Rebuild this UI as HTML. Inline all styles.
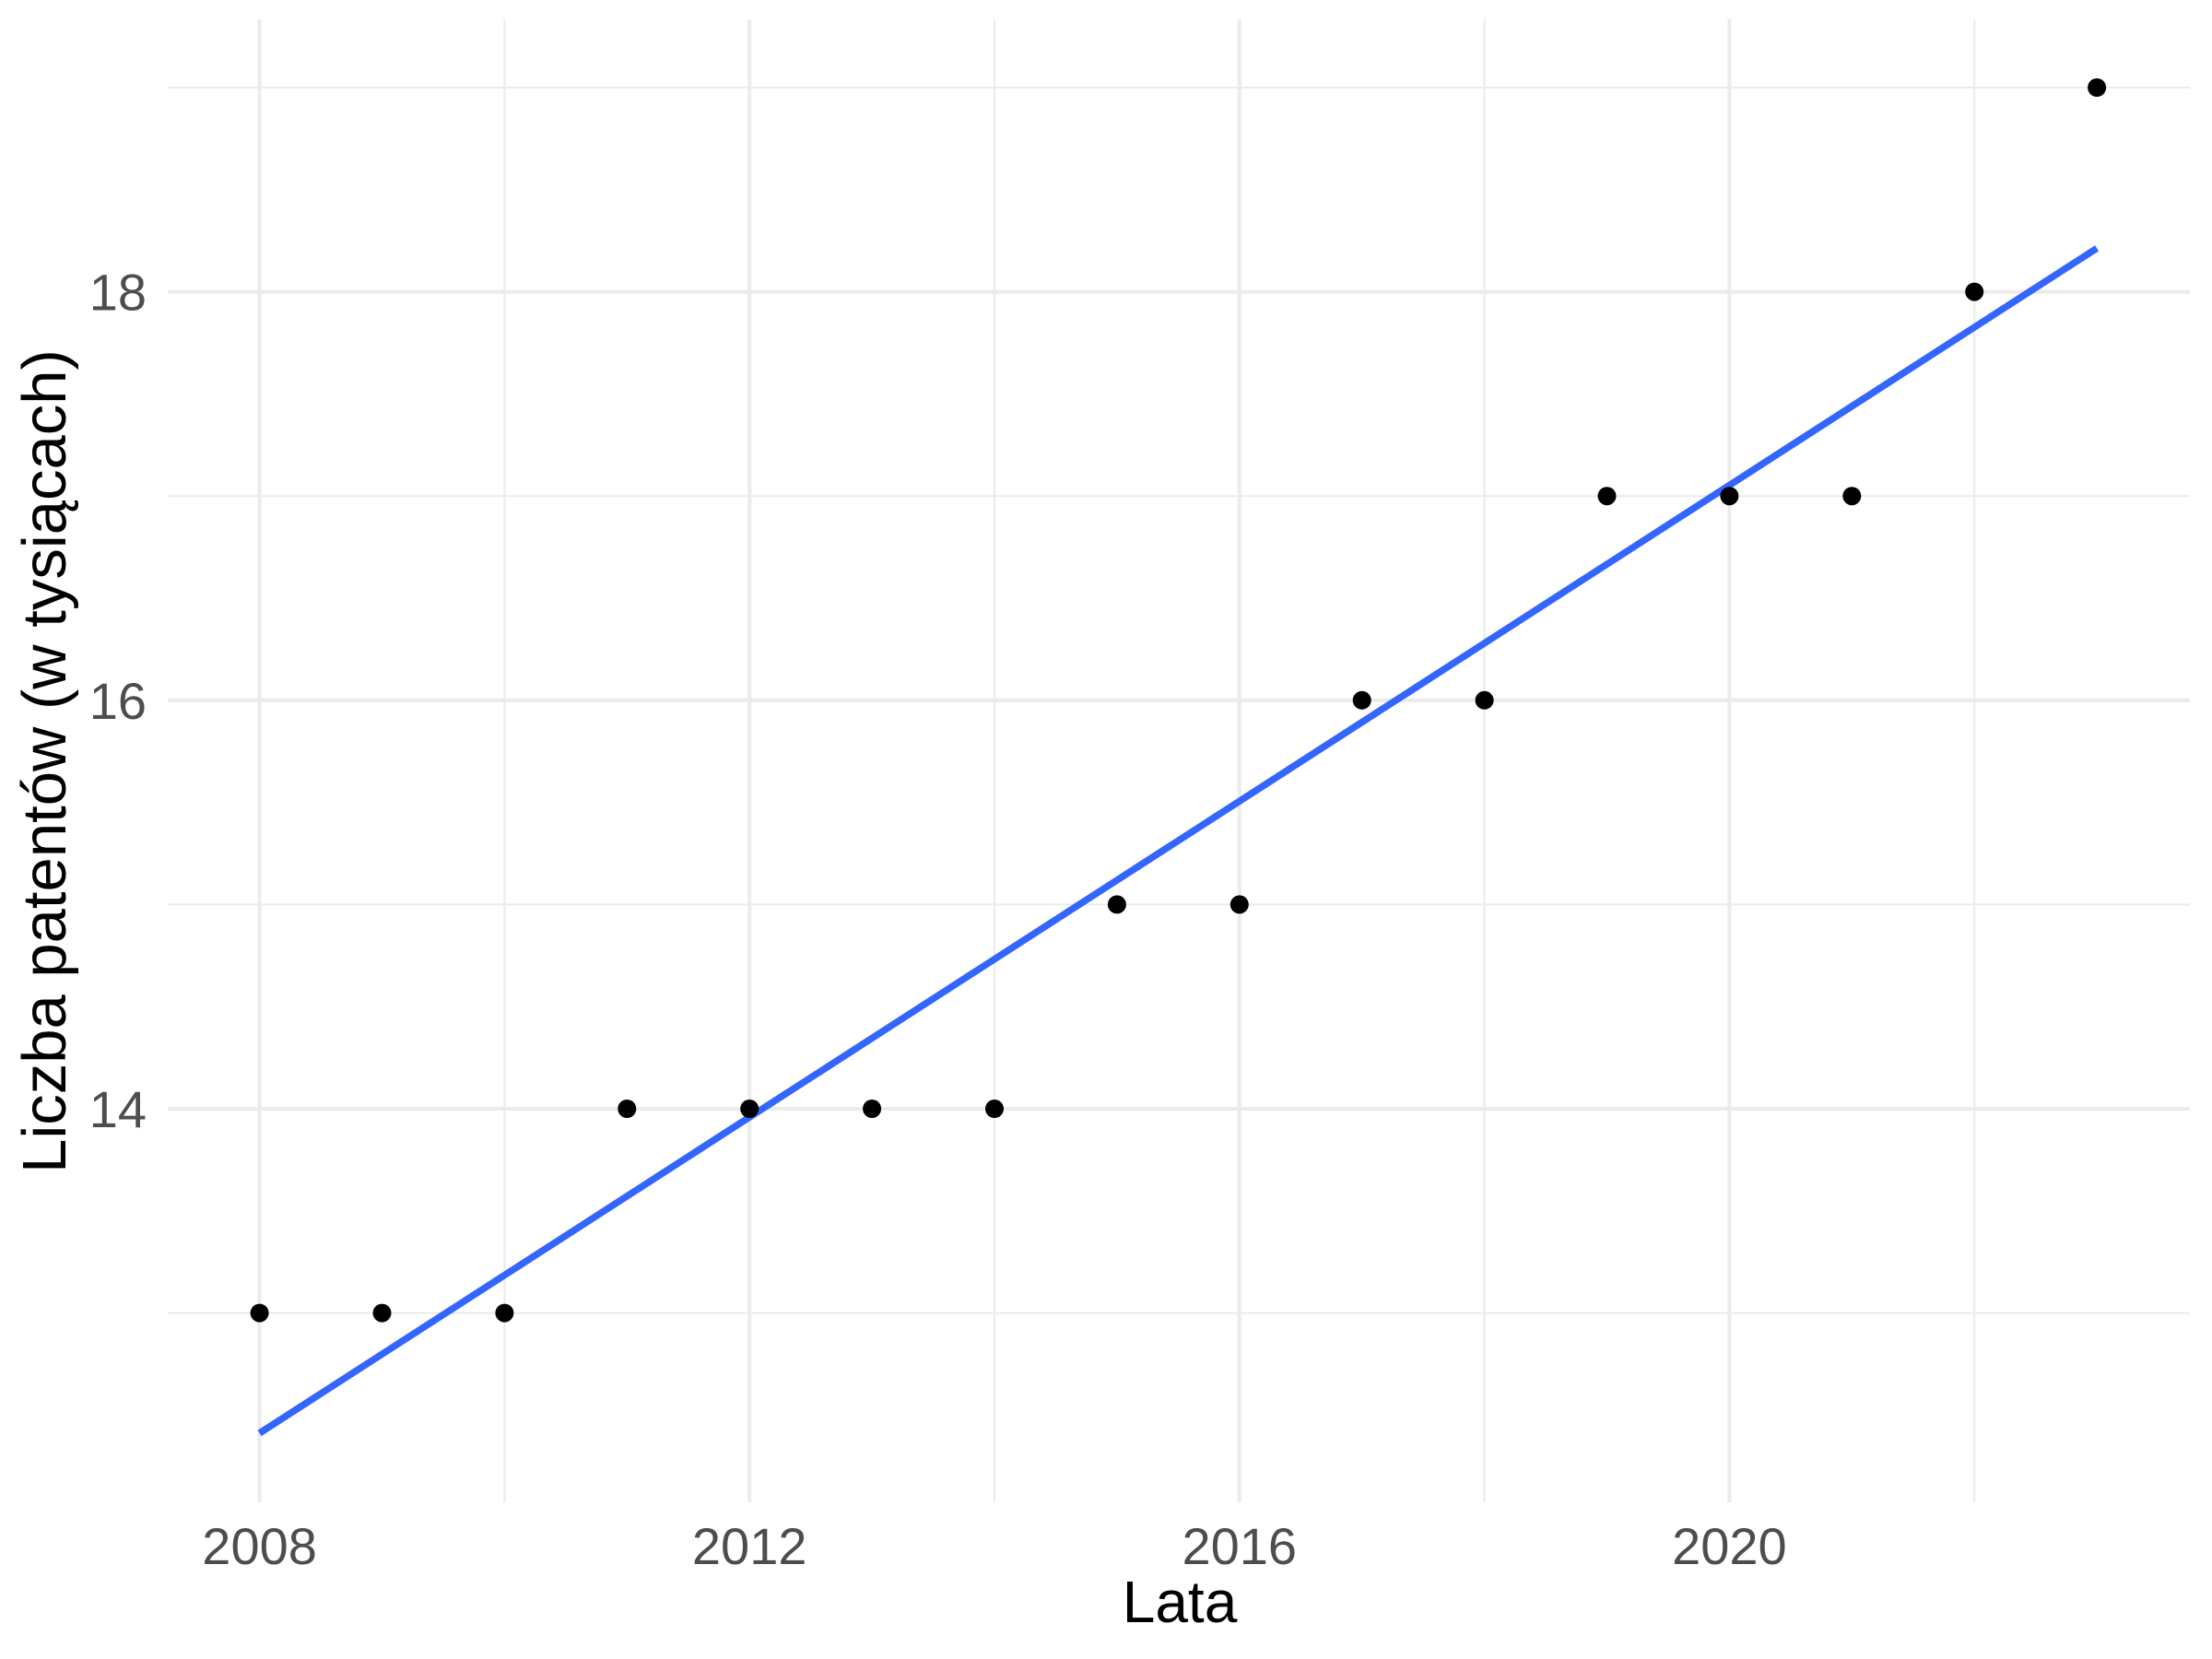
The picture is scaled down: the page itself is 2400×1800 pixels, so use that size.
<!DOCTYPE html>
<html><head><meta charset="utf-8"><style>
html,body{margin:0;padding:0;background:#fff;}
svg{display:block;font-family:"Liberation Sans",Arial,sans-serif;}
</style></head><body>
<svg id="chart" width="2400" height="1800" viewBox="0 0 2400 1800" xmlns="http://www.w3.org/2000/svg">
<rect width="2400" height="1800" fill="#fff"/>
<g id="grid"></g>
<g id="marks"></g>
<g id="axes"></g>
<text x="1280" y="1760" font-size="64" text-anchor="middle" fill="#000">Lata</text>
<text transform="translate(71,826) rotate(-90)" font-size="67" text-anchor="middle" fill="#000">Liczba patentów (w tysiącach)</text>
</svg>
<script>
const years = [2008,2009,2010,2011,2012,2013,2014,2015,2016,2017,2018,2019,2020,2021,2022,2023];
const patents = [13,13,13,14,14,14,14,15,15,16,16,17,17,17,18,19];
const xTicks = [2008,2012,2016,2020];
const xMinor = [2010,2014,2018,2022];
const yTicks = [14,16,18];
const yMinor = [13,15,17,19];

const NS="http://www.w3.org/2000/svg";
const X0=281.6, XPER=132.9, Y14=1203, YPER=221.6;
const PL=182, PR=2376, PT=21, PB=1630;
function xs(v){return X0+(v-2008)*XPER;}
function ys(v){return Y14-(v-14)*YPER;}
function mk(tag,attrs,parent){const e=document.createElementNS(NS,tag);for(const k in attrs)e.setAttribute(k,attrs[k]);parent.appendChild(e);return e;}
const grid=document.getElementById('grid'), marks=document.getElementById('marks'), axes=document.getElementById('axes');

yMinor.forEach(v=>{const l=mk('line',{x1:PL,x2:PR,y1:ys(v),y2:ys(v),stroke:'#ebebeb','stroke-width':2},grid);

});
xMinor.forEach(v=>{const l=mk('line',{x1:xs(v),x2:xs(v),y1:PT,y2:PB,stroke:'#ebebeb','stroke-width':2},grid);

});
yTicks.forEach(v=>{const l=mk('line',{x1:PL,x2:PR,y1:ys(v),y2:ys(v),stroke:'#ebebeb','stroke-width':4},grid);


const t=mk('text',{x:159,y:ys(v)+20,'font-size':56,'text-anchor':'end',fill:'#4d4d4d'},axes);
t.textContent=v;

});
xTicks.forEach(v=>{const l=mk('line',{x1:xs(v),x2:xs(v),y1:PT,y2:PB,stroke:'#ebebeb','stroke-width':4},grid);


const t=mk('text',{x:xs(v),y:1697,'font-size':56,'text-anchor':'middle',fill:'#4d4d4d'},axes);
t.textContent=v;

});

const n=years.length;
const mx=years.reduce((a,b)=>a+b,0)/n, my=patents.reduce((a,b)=>a+b,0)/n;
let sxy=0,sxx=0;for(let i=0;i<n;i++){sxy+=(years[i]-mx)*(patents[i]-my);sxx+=(years[i]-mx)**2;}
const slope=sxy/sxx, icpt=my-slope*mx;
const xa=Math.min(...years), xb=Math.max(...years);
const fit=mk('line',{x1:xs(xa),y1:ys(icpt+slope*xa),x2:xs(xb),y2:ys(icpt+slope*xb),stroke:'#3366ff','stroke-width':7.5},marks);



years.forEach((yr,i)=>{const c=mk('circle',{cx:xs(yr),cy:ys(patents[i]),r:10,fill:'#000'},marks);

});
</script>
</body></html>
